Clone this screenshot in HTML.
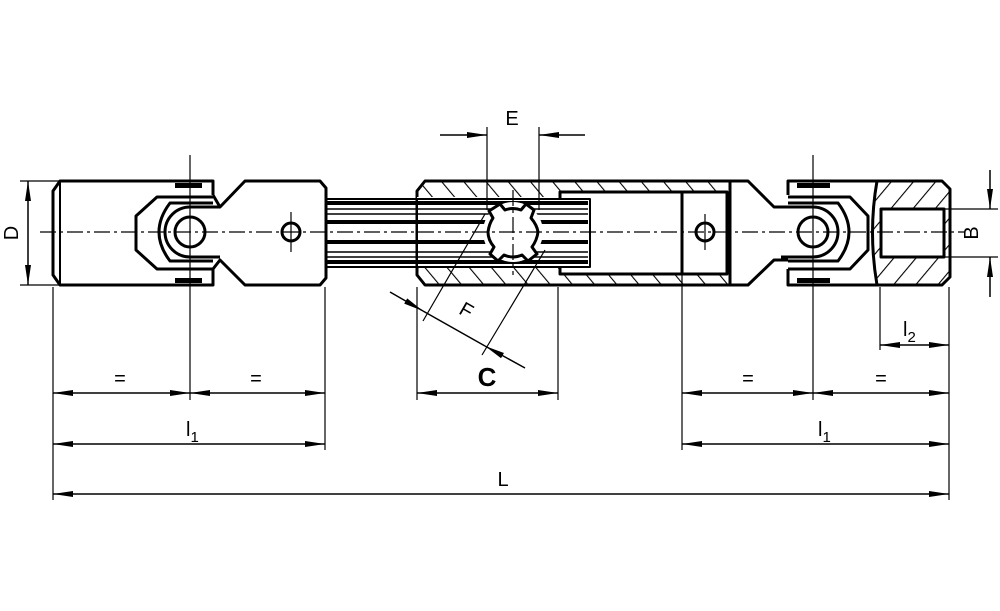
<!DOCTYPE html>
<html><head><meta charset="utf-8"><style>
html,body{margin:0;padding:0;background:#fff;width:1000px;height:611px;overflow:hidden}
svg text{font-family:"Liberation Sans",sans-serif;fill:#000}
</style></head><body>
<svg width="1000" height="611" viewBox="0 0 1000 611" xmlns="http://www.w3.org/2000/svg">
<defs>
<marker id="a" viewBox="0 0 20 8" refX="20" refY="4" markerWidth="20" markerHeight="8" markerUnits="userSpaceOnUse" orient="auto-start-reverse"><path d="M0,1 L20,4 L0,7z" fill="#000"/></marker>
<pattern id="h" patternUnits="userSpaceOnUse" width="17" height="17" patternTransform="rotate(-40)"><line x1="0" y1="0" x2="0" y2="17" stroke="#000" stroke-width="2.2"/></pattern>
<pattern id="h2" patternUnits="userSpaceOnUse" width="17" height="17" patternTransform="rotate(40)"><line x1="0" y1="0" x2="0" y2="17" stroke="#000" stroke-width="2.2"/></pattern>
</defs>
<g fill="none" stroke="#000" stroke-width="3" stroke-linejoin="round">
<!-- left body -->
<path d="M213,195 V181 H60 L53,191 V275 L60,285 H213 V269"/>
<line x1="60" y1="181" x2="60" y2="285" stroke-width="2"/>
<rect x="175" y="183" width="27" height="5" fill="#000" stroke="none"/>
<rect x="175" y="278" width="27" height="5" fill="#000" stroke="none"/>
<!-- left yoke -->
<path d="M213,195 L220,207 L245,181 H320 L326,188 V278 L320,285 H245 L220,260 L213,269"/>
<path d="M213,197 H157 L136,216 V250 L157,269 H213"/>
<path d="M213,203 H170 Q148,232 170,261 H213"/>
<path d="M220,207 H190 A25,25 0 0 0 190,257 H220"/>
<circle cx="190" cy="232" r="15" fill="#fff"/>
<circle cx="291" cy="232" r="9" fill="#fff"/>
<!-- spline shaft -->
<rect x="326" y="199" width="264" height="68" stroke-width="2"/>
<g stroke-width="4"><line x1="326" y1="203" x2="585" y2="203"/><line x1="326" y1="222" x2="585" y2="222"/><line x1="326" y1="242" x2="585" y2="242"/><line x1="326" y1="262" x2="585" y2="262"/></g>
<g stroke-width="1.5"><line x1="326" y1="209" x2="585" y2="209"/><line x1="326" y1="214" x2="585" y2="214"/><line x1="326" y1="252" x2="585" y2="252"/><line x1="326" y1="257" x2="585" y2="257"/></g>
<!-- tube -->
<path d="M425,181 H730 V285 H425 L417,275 V191 Z" fill="url(#h)"/>
<rect x="417" y="197" width="143" height="71" fill="#fff" stroke="none"/>
<rect x="560" y="192" width="167" height="82" fill="#fff" stroke-width="3"/>
<rect x="417" y="199" width="173" height="68" fill="#fff" stroke-width="2"/>
<g stroke-width="4"><line x1="417" y1="203" x2="588" y2="203"/><line x1="417" y1="222" x2="588" y2="222"/><line x1="417" y1="242" x2="588" y2="242"/><line x1="417" y1="262" x2="588" y2="262"/></g>
<g stroke-width="1.5"><line x1="417" y1="209" x2="588" y2="209"/><line x1="417" y1="214" x2="588" y2="214"/><line x1="417" y1="252" x2="588" y2="252"/><line x1="417" y1="257" x2="588" y2="257"/></g>
<circle cx="513" cy="232" r="30" fill="#fff" stroke="none"/>
<path d="M500,204 L505,210 Q513,207 521,210 L526,204 L534,210 L531,218 Q537,225 538,232 Q537,240 532,247 L537,254 L528,261 L522,255 Q513,259 504,255 L498,261 L490,254 L494,247 Q488,240 488,232 Q489,224 493,218 L489,211 Z" fill="#fff"/>
<line x1="682" y1="192" x2="682" y2="274"/>
<circle cx="705" cy="232" r="9" fill="#fff"/>
<!-- right yoke -->
<path d="M730,181 H748 L774,207 H788 M788,260 H774 L748,285 H730"/>
<path d="M730,181 V285"/>
<path d="M788,195 V181 H877 M877,285 H788 V269"/>
<rect x="797" y="183" width="33" height="5" fill="#000" stroke="none"/>
<rect x="797" y="278" width="33" height="5" fill="#000" stroke="none"/>
<path d="M788,197 H850 L868,216 V250 L850,269 H788"/>
<path d="M788,203 H838 Q860,232 838,261 H788"/>
<path d="M781,207 H813 A25,25 0 0 1 813,257 H781"/>
<circle cx="813" cy="232" r="15" fill="#fff"/>
<path d="M877,181 H942 L950,189 V277 L942,285 H877 Q868,232 877,181Z" fill="url(#h2)"/>
<rect x="881" y="209" width="63" height="48" fill="#fff" stroke-width="3"/>
</g>
<!-- centerlines -->
<g stroke="#000" stroke-width="1.2" fill="none">
<line x1="40" y1="232" x2="965" y2="232" stroke-dasharray="16,4,3,4"/>
<line x1="190" y1="155" x2="190" y2="400"/>
<line x1="291" y1="212" x2="291" y2="252"/>
<line x1="513" y1="190" x2="513" y2="275" stroke-dasharray="16,4,3,4"/>
<line x1="705" y1="214" x2="705" y2="250"/>
<line x1="813" y1="155" x2="813" y2="400"/>
<line x1="53" y1="287" x2="53" y2="500"/>
<line x1="325" y1="287" x2="325" y2="450"/>
<line x1="417" y1="287" x2="417" y2="400"/>
<line x1="558" y1="287" x2="558" y2="400"/>
<line x1="682" y1="274" x2="682" y2="450"/>
<line x1="949" y1="287" x2="949" y2="500"/>
<line x1="880" y1="287" x2="880" y2="350"/>
<line x1="487" y1="127" x2="487" y2="210"/>
<line x1="539" y1="127" x2="539" y2="210"/>
<line x1="20" y1="181" x2="60" y2="181"/>
<line x1="20" y1="285" x2="60" y2="285"/>
<line x1="944" y1="209" x2="998" y2="209"/>
<line x1="944" y1="257" x2="998" y2="257"/>
<line x1="423" y1="321" x2="485" y2="214"/>
<line x1="482" y1="355" x2="545" y2="250"/>
</g>
<g stroke="#000" stroke-width="1.5" fill="none">
<line x1="53" y1="393" x2="190" y2="393" marker-start="url(#a)" marker-end="url(#a)"/>
<line x1="190" y1="393" x2="325" y2="393" marker-start="url(#a)" marker-end="url(#a)"/>
<line x1="417" y1="393" x2="558" y2="393" marker-start="url(#a)" marker-end="url(#a)"/>
<line x1="682" y1="393" x2="813" y2="393" marker-start="url(#a)" marker-end="url(#a)"/>
<line x1="813" y1="393" x2="949" y2="393" marker-start="url(#a)" marker-end="url(#a)"/>
<line x1="53" y1="444" x2="325" y2="444" marker-start="url(#a)" marker-end="url(#a)"/>
<line x1="682" y1="444" x2="949" y2="444" marker-start="url(#a)" marker-end="url(#a)"/>
<line x1="53" y1="494" x2="949" y2="494" marker-start="url(#a)" marker-end="url(#a)"/>
<line x1="880" y1="345" x2="949" y2="345" marker-start="url(#a)" marker-end="url(#a)"/>
<line x1="28" y1="181" x2="28" y2="285" marker-start="url(#a)" marker-end="url(#a)"/>
<line x1="440" y1="135" x2="487" y2="135" marker-end="url(#a)"/>
<line x1="585" y1="135" x2="539" y2="135" marker-end="url(#a)"/>
<line x1="990" y1="170" x2="990" y2="209" marker-end="url(#a)"/>
<line x1="990" y1="297" x2="990" y2="257" marker-end="url(#a)"/>
<line x1="390" y1="292" x2="423" y2="311" marker-end="url(#a)"/>
<line x1="525" y1="368" x2="485" y2="346" marker-end="url(#a)"/>
<line x1="423" y1="311" x2="485" y2="346"/>
</g>
<g font-size="20">
<text x="120" y="385" text-anchor="middle">=</text>
<text x="256" y="385" text-anchor="middle">=</text>
<text x="748" y="385" text-anchor="middle">=</text>
<text x="881" y="385" text-anchor="middle">=</text>
<text x="186" y="436">l<tspan font-size="15" dy="6">1</tspan></text>
<text x="818" y="436">l<tspan font-size="15" dy="6">1</tspan></text>
<text x="903" y="336">l<tspan font-size="15" dy="6">2</tspan></text>
<text x="503" y="486" text-anchor="middle">L</text>
<text x="512" y="125" text-anchor="middle">E</text>
<text transform="translate(18,233) rotate(-90)" text-anchor="middle">D</text>
<text transform="translate(978,233) rotate(-90)" text-anchor="middle">B</text>
<text transform="translate(463,316) rotate(30)" text-anchor="middle">F</text>
<text x="487" y="386" text-anchor="middle" font-size="26" font-weight="bold">C</text>
</g>
</svg>
</body></html>
